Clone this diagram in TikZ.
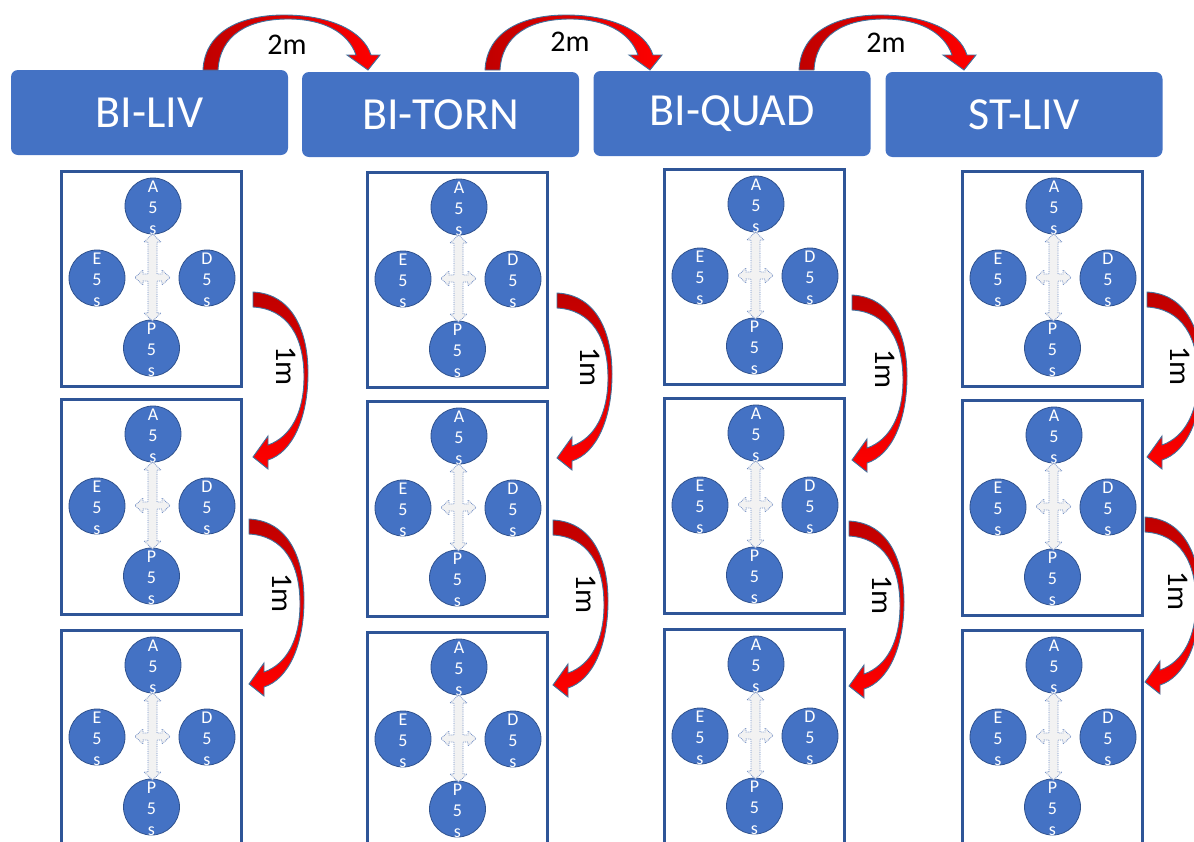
\documentclass[tikz,border=0pt]{standalone}
\usepackage{fontspec}
\setmainfont{Carlito}
\definecolor{boxblue}{HTML}{4472C4}
\definecolor{edgeblue}{HTML}{2F5597}
\definecolor{circedge}{HTML}{2F528F}
\definecolor{darkred}{HTML}{C00000}
\definecolor{brightred}{HTML}{FF0000}
\definecolor{arrowedge}{HTML}{41719C}
\definecolor{crossfill}{HTML}{F2F2F2}
\definecolor{crossedge}{HTML}{6F8CC4}
\begin{document}
\begin{tikzpicture}[x=1pt,y=-1pt,
 header/.style={fill=boxblue, rounded corners=7pt, minimum width=277pt, minimum height=85pt, text=white, font=\fontsize{46}{55}\selectfont, inner sep=0},
 panel/.style={draw=edgeblue, line width=2.5pt, fill=white, minimum width=180pt, minimum height=215pt, inner sep=0, anchor=north west},
 circ/.style={circle, fill=boxblue, draw=circedge, line width=0.8pt, minimum size=56pt, inner sep=0},
 ctext/.style={text=white, align=center, font=\fontsize{18}{21}\selectfont, inner sep=0},
 lbl/.style={font=\fontsize{30}{36}\selectfont, inner sep=0},
 harrow/.style={draw=arrowedge, line width=0.9pt, left color=darkred, right color=brightred},
 varrow/.style={draw=arrowedge, line width=0.9pt, top color=darkred, bottom color=brightred},
 cross/.style={fill=crossfill, draw=crossedge, densely dotted, line width=0.8pt}]
\useasboundingbox (0,0) rectangle (1194,841);
\clip (0,0) rectangle (1194,841);

% headers
\node[header] (h1) at (149.5,112.5) {BI-LIV};
\node[header] (h2) at (440.5,114.5) {BI-TORN};
\node[header] (h3) at (732,113.5) {BI-QUAD};
\node[header] (h4) at (1024,114.5) {ST-LIV};

% 2m arrows
\foreach \i/\ox/\lx/\ly in {1/203/287/45, 2/485/570/42, 3/799/886/43} {
  \coordinate (t\i) at (\ox,70);
  \begin{scope}[shift={(t\i)}]
    \path[harrow] (0,0) .. controls (2,-40) and (40,-55) .. (81,-55)
      .. controls (125,-55) and (160,-40) .. (168,-15) -- (177,-15) -- (165,0)
      -- (144,-15) -- (153,-15) .. controls (145,-38) and (120,-51) .. (85,-51)
      .. controls (45,-51) and (17,-35) .. (15,0) -- cycle;
  \end{scope}
  \node[lbl] (m\i) at (\lx,\ly) {2m};
}

% panels
\foreach \c/\x/\ya/\yb/\yc in {1/60/170/398/629, 2/366/171/400/631, 3/663/168/397/628, 4/961/170/399/629} {
  \foreach \r/\y in {1/\ya, 2/\yb, 3/\yc} {
    \node[panel] (p\c\r) at (\x,\y) {};
    \begin{scope}[shift={(\x,\y)}]
      \node[circ] (A\c\r) at (93,36) {};
      \node[ctext] at ([yshift=-1.5pt]A\c\r.center) {A\\5\\s};
      \node[circ] (E\c\r) at (37,108) {};
      \node[ctext] at ([yshift=-1.5pt]E\c\r.center) {E\\5\\s};
      \node[circ] (D\c\r) at (147,108) {};
      \node[ctext] at ([yshift=-1.5pt]D\c\r.center) {D\\5\\s};
      \node[circ] (P\c\r) at (91.5,178) {};
      \node[ctext] at ([yshift=-1.5pt]P\c\r.center) {P\\5\\s};
      \begin{scope}[shift={(92.5,107.5)}]
        \draw[cross] (0,-43.5) -- (8.5,-35.5) -- (4.5,-35.5) -- (4.5,-3.5) -- (9.5,-3.5)
          -- (9.5,-7.5) -- (17.5,0) -- (9.5,7.5) -- (9.5,3.5) -- (4.5,3.5) -- (4.5,35.5)
          -- (8.5,35.5) -- (0,43.5) -- (-8.5,35.5) -- (-4.5,35.5) -- (-4.5,3.5)
          -- (-9.5,3.5) -- (-9.5,7.5) -- (-17.5,0) -- (-9.5,-7.5) -- (-9.5,-3.5)
          -- (-4.5,-3.5) -- (-4.5,-35.5) -- (-8.5,-35.5) -- cycle;
      \end{scope}
    \end{scope}
  }
}

% 1m arrows
\foreach \n/\ox/\oy in {a/253/292, b/249/519, c/557/293, d/553/520, e/852/295, f/849/521, g/1147/292, h/1145/517} {
  \coordinate (s\n) at (\ox,\oy);
  \begin{scope}[shift={(s\n)}]
    \path[varrow] (0,0) .. controls (40,2) and (55,40) .. (55,81)
      .. controls (55,125) and (40,160) .. (15,168) -- (15,177) -- (0,165)
      -- (15,144) -- (15,153) .. controls (38,145) and (51,120) .. (51,85)
      .. controls (51,45) and (35,17) .. (0,15) -- cycle;
    \node[lbl, rotate=-90] (l\n) at (33,74) {1m};
  \end{scope}
}
\end{tikzpicture}
\end{document}
